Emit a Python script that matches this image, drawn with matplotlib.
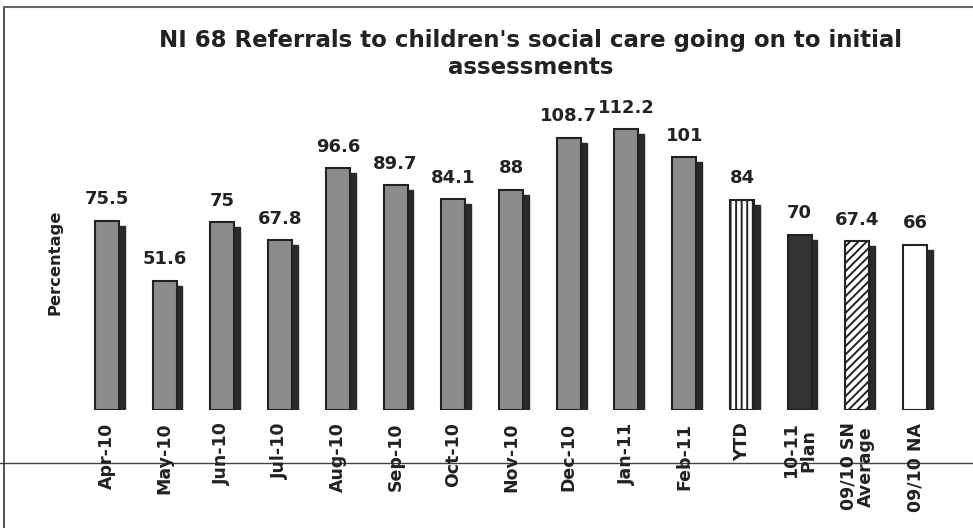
import matplotlib
matplotlib.use("Agg")
import matplotlib.pyplot as plt
from matplotlib.lines import Line2D

categories = ["Apr-10", "May-10", "Jun-10", "Jul-10", "Aug-10", "Sep-10", "Oct-10",
              "Nov-10", "Dec-10", "Jan-11", "Feb-11", "YTD", "10-11\nPlan",
              "09/10 SN\nAverage", "09/10 NA"]
values = [75.5, 51.6, 75, 67.8, 96.6, 89.7, 84.1, 88, 108.7, 112.2, 101, 84, 70, 67.4, 66]
value_labels = ["75.5", "51.6", "75", "67.8", "96.6", "89.7", "84.1", "88", "108.7",
                "112.2", "101", "84", "70", "67.4", "66"]
face_colors = ["#8c8c8c"] * 11 + ["white", "#333333", "white", "white"]
hatches = [None] * 11 + ["|||", None, "////", None]

plt.rcParams['font.family'] = ['DejaVu Sans']
plt.rcParams['hatch.linewidth'] = 1.4

fig = plt.figure(figsize=(9.73, 5.28), dpi=100)
ax = fig.add_axes([0.0802, 1 - 410 / 528, 0.890, 313 / 528])

x = list(range(len(values)))
w = 0.416
# shadows
ax.bar([xi + 0.10 for xi in x], [v - 2 for v in values], width=w,
       color="#2a2a2a", edgecolor="#2a2a2a", zorder=1)
bars = ax.bar(x, values, width=w, color=face_colors, edgecolor="#222222",
              linewidth=1.5, zorder=2)
for b, h in zip(bars, hatches):
    if h:
        b.set_hatch(h)

for xi, v, lab in zip(x, values, value_labels):
    ax.annotate(lab, (xi, v), xytext=(0, 9), textcoords="offset points",
                ha="center", va="bottom", fontsize=13, fontweight="bold",
                color="#222222")

ax.set_xlim(-0.5, len(values) - 0.5)
ax.set_ylim(0, 125)
ax.set_xticks(x)
ax.set_xticklabels(categories, rotation=90, fontsize=12.5, fontweight="bold",
                   color="#222222", va="top", ha="center", linespacing=1.0)
ax.tick_params(axis="x", length=0, pad=9)
ax.set_yticks([])
for s in ax.spines.values():
    s.set_visible(False)
ax.set_facecolor("none")

fig.text(0.0565, 1 - 262 / 528, "Percentage", rotation=90, ha="center", va="center",
         fontsize=11.8, fontweight="bold", color="#222222")
fig.text(0.545, 1 - 54 / 528, "NI 68 Referrals to children's social care going on to initial\nassessments",
         ha="center", va="center", fontsize=16.5, fontweight="bold", color="#222222",
         linespacing=1.25)

# frame lines of the scanned page
fig.add_artist(Line2D([4 / 973, 4 / 973], [0, 1 - 7 / 528], transform=fig.transFigure,
                      color="#333333", linewidth=1.2))
fig.add_artist(Line2D([4 / 973, 1], [1 - 7 / 528, 1 - 7 / 528], transform=fig.transFigure,
                      color="#666666", linewidth=1.5))
fig.add_artist(Line2D([0, 1], [1 - 463 / 528, 1 - 463 / 528], transform=fig.transFigure,
                      color="#444444", linewidth=1.0, zorder=0))

fig.savefig("out.png", dpi=100)
